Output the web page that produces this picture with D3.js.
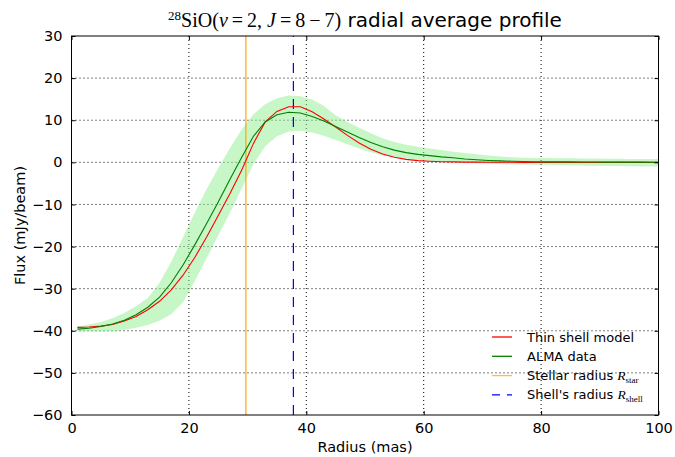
<!DOCTYPE html>
<html>
<head>
<meta charset="utf-8">
<script src="https://cdn.jsdelivr.net/npm/d3@7"></script>
<style>
  body { margin: 0; background: #fff; }
  text { font-family: "DejaVu Sans", sans-serif; }
  .serif { font-family: "Liberation Serif", "DejaVu Serif", serif; }
</style>
</head>
<body>
<script>
// radius samples (mas)
var radius = [1, 3, 5, 7, 9, 11, 13, 15, 17, 19, 21, 23, 25, 27, 29, 31, 33, 35, 37, 39,
              41, 43, 45, 47, 49, 51, 53, 55, 57, 59, 61, 63, 65, 67, 69, 71, 73, 75, 77, 79,
              81, 83, 85, 87, 89, 91, 93, 95, 97, 99, 100];

// ALMA data (mJy/beam)
var almaFlux = [-39.6, -39.4, -39.0, -38.4, -37.5, -36.2, -34.4, -32.0, -28.6, -24.4,
                -19.6, -14.6, -9.4, -4.0, 1.2, 6.2, 9.6, 11.3, 11.9, 11.7,
                10.9, 9.8, 8.5, 7.2, 5.9, 4.7, 3.7, 2.9, 2.3, 1.9,
                1.6, 1.3, 1.1, 0.8, 0.6, 0.45, 0.35, 0.25, 0.2, 0.15,
                0.12, 0.1, 0.1, 0.08, 0.08, 0.06, 0.05, 0.05, 0.04, 0.03, 0.03];

// upper / lower edge of the ALMA uncertainty band
var almaUpper = [-39.0, -38.5, -37.9, -37.0, -35.8, -34.2, -32.2, -28.6, -23.6, -17.8,
                 -12.0, -6.4, -1.4, 3.4, 7.8, 11.4, 13.8, 15.2, 15.9, 15.7,
                 14.9, 13.4, 11.2, 9.6, 8.2, 6.9, 5.7, 4.8, 4.2, 3.7,
                 3.3, 2.9, 2.5, 2.2, 1.9, 1.6, 1.4, 1.2, 1.1, 1.0,
                 1.0, 0.95, 0.95, 0.9, 0.9, 0.85, 0.85, 0.8, 0.8, 0.8, 0.8];
var almaLower = [-40.2, -40.2, -40.2, -40.1, -39.8, -39.3, -38.6, -37.6, -36.0, -33.2,
                 -28.2, -22.8, -17.4, -12.0, -6.2, -0.4, 3.8, 6.2, 7.3, 7.5,
                 7.1, 6.3, 5.3, 4.3, 3.3, 2.4, 1.7, 1.2, 0.9, 0.6,
                 0.4, 0.2, 0.0, -0.1, -0.2, -0.3, -0.4, -0.5, -0.5, -0.6,
                 -0.6, -0.65, -0.7, -0.75, -0.8, -0.85, -0.9, -0.95, -1.0, -1.0, -1.0];

// thin shell model (mJy/beam)
var modelFlux = [-39.2, -39.1, -38.9, -38.5, -37.7, -36.6, -35.0, -33.0, -30.3, -26.8,
                 -22.6, -17.8, -12.6, -7.4, -1.8, 4.5, 9.6, 12.1, 13.2, 13.2,
                 12.0, 10.3, 8.4, 6.4, 4.6, 3.1, 2.0, 1.2, 0.7, 0.4,
                 0.25, 0.15, 0.1, 0.05, 0.05, 0.03, 0.02, 0.01, 0, 0,
                 0, 0, 0, 0, 0, 0, 0, 0, 0, 0, 0];

var stellarRadius = 29.7;
var shellRadius = 37.8;

var xTicks = [0, 20, 40, 60, 80, 100];
var yTicks = [30, 20, 10, 0, -10, -20, -30, -40, -50, -60];

const w = 675,
      h = 457,
      padL = 71.5,
      padR = 658.5,
      padT = 36,
      padB = 415;

const xScale = d3.scaleLinear().domain([0, 100]).range([padL, padR]);
const yScale = d3.scaleLinear().domain([-60, 30]).range([padB, padT]);

const svg = d3.select("body")
              .append("svg")
              .attr("width", w)
              .attr("height", h);

const fmt = d => d < 0 ? "\u2212" + Math.abs(d) : String(d);

// grid
svg.append("g")
   .selectAll("line")
   .data(xTicks.slice(1, -1))
   .enter()
   .append("line")
   .attr("x1", d => xScale(d)).attr("x2", d => xScale(d))
   .attr("y1", padT).attr("y2", padB)
   .attr("stroke", "#000").attr("stroke-width", 1)
   .attr("stroke-dasharray", "1,3");

svg.append("g")
   .selectAll("line")
   .data(yTicks.slice(1, -1))
   .enter()
   .append("line")
   .attr("x1", padL).attr("x2", padR)
   .attr("y1", d => yScale(d)).attr("y2", d => yScale(d))
   .attr("stroke", "#000").attr("stroke-width", 1)
   .attr("stroke-dasharray", "1,3");

// uncertainty band
const band = radius.map((r, i) => ({r: r, lo: almaLower[i], hi: almaUpper[i]}));
svg.append("path")
   .datum(band)
   .attr("fill", "#90ee90")
   .attr("fill-opacity", 0.5)
   .attr("d", d3.area()
               .x(d => xScale(d.r))
               .y0(d => yScale(d.lo))
               .y1(d => yScale(d.hi)));

// reference radii (drawn bottom to top, like axvline)
svg.append("line")
   .attr("x1", xScale(stellarRadius)).attr("x2", xScale(stellarRadius))
   .attr("y1", padB).attr("y2", padT)
   .attr("stroke", "#ffa500").attr("stroke-opacity", 0.75)
   .attr("stroke-width", 1.6);

svg.append("line")
   .attr("x1", xScale(shellRadius)).attr("x2", xScale(shellRadius))
   .attr("y1", padB).attr("y2", padT)
   .attr("stroke", "#0000ff").attr("stroke-width", 1.2)
   .attr("stroke-dasharray", "10,8");

const line = d3.line()
               .x(d => xScale(d[0]))
               .y(d => yScale(d[1]));

svg.append("path")
   .datum(radius.map((r, i) => [r, modelFlux[i]]))
   .attr("fill", "none")
   .attr("stroke", "#ff0000")
   .attr("stroke-width", 1.1)
   .attr("d", line);

svg.append("path")
   .datum(radius.map((r, i) => [r, almaFlux[i]]))
   .attr("fill", "none")
   .attr("stroke", "#008000")
   .attr("stroke-width", 1.1)
   .attr("d", line);

// axes, ticks inside on all four sides
const tickLen = 4;
svg.append("g")
   .attr("transform", "translate(0," + padB + ")")
   .call(d3.axisBottom(xScale).tickValues(xTicks).tickSizeInner(-tickLen).tickSizeOuter(0).tickPadding(8).tickFormat(fmt));
svg.append("g")
   .attr("transform", "translate(0," + padT + ")")
   .call(d3.axisTop(xScale).tickValues(xTicks).tickSizeInner(-tickLen).tickSizeOuter(0).tickFormat(""));
svg.append("g")
   .attr("transform", "translate(" + padL + ",0)")
   .call(d3.axisLeft(yScale).tickValues(yTicks).tickSizeInner(-tickLen).tickSizeOuter(0).tickPadding(9).tickFormat(fmt));
svg.append("g")
   .attr("transform", "translate(" + padR + ",0)")
   .call(d3.axisRight(yScale).tickValues(yTicks).tickSizeInner(-tickLen).tickSizeOuter(0).tickFormat(""));

svg.selectAll(".domain").remove();
svg.selectAll(".tick line").attr("stroke", "#000");
svg.selectAll(".tick text")
   .attr("font-family", "DejaVu Sans")
   .attr("font-size", 14.5)
   .attr("fill", "#000");

svg.append("rect")
   .attr("x", padL).attr("y", padT)
   .attr("width", padR - padL).attr("height", padB - padT)
   .attr("fill", "none")
   .attr("stroke", "#000").attr("stroke-width", 1);

// labels
svg.append("text")
   .text("Radius (mas)")
   .attr("x", (padL + padR) / 2)
   .attr("y", 452)
   .attr("text-anchor", "middle")
   .attr("font-size", 14.5);

svg.append("text")
   .text("Flux (mJy/beam)")
   .attr("transform", "translate(25," + (padT + padB) / 2 + ")rotate(-90)")
   .attr("text-anchor", "middle")
   .attr("font-size", 14.5);

var title = svg.append("text")
               .attr("x", (padL + padR) / 2)
               .attr("y", 27)
               .attr("text-anchor", "middle")
               .attr("font-size", 20);
title.append("tspan").attr("class", "serif").attr("font-size", 13).attr("dy", -7).text("28");
title.append("tspan").attr("class", "serif").attr("dy", 7).text("SiO(");
title.append("tspan").attr("class", "serif").attr("font-style", "italic").text("v");
title.append("tspan").attr("class", "serif").text("\u2009=\u20092, ");
title.append("tspan").attr("class", "serif").attr("font-style", "italic").text("J");
title.append("tspan").attr("class", "serif").text("\u2009=\u20098\u2009\u2212\u20097)");
title.append("tspan").text(" radial average profile");

// legend
var legend = svg.append("g").attr("id", "legend");
var legendItems = [
  {label: "Thin shell model", color: "#ff0000", dash: null, op: 1},
  {label: "ALMA data", color: "#008000", dash: null, op: 1},
  {label: "Stellar radius ", sym: "star", color: "#ffa500", dash: null, op: 0.75},
  {label: "Shell's radius ", sym: "shell", color: "#0000ff", dash: "8,7", op: 1}
];
legendItems.forEach(function(d, i) {
  var y = 337 + i * 19.3;
  legend.append("line")
        .attr("x1", 492).attr("x2", 512)
        .attr("y1", y).attr("y2", y)
        .attr("stroke", d.color)
        .attr("stroke-opacity", d.op)
        .attr("stroke-width", 1.3)
        .attr("stroke-dasharray", d.dash);
  var t = legend.append("text")
                .attr("x", 527)
                .attr("y", y + 4.5)
                .attr("font-size", 13);
  t.append("tspan").text(d.label);
  if (d.sym) {
    t.append("tspan").attr("class", "serif").attr("font-style", "italic").attr("font-size", 13.5).text("R");
    t.append("tspan").attr("class", "serif").attr("font-size", 9).attr("dy", 2.5).text(d.sym);
  }
});
</script>
</body>
</html>
